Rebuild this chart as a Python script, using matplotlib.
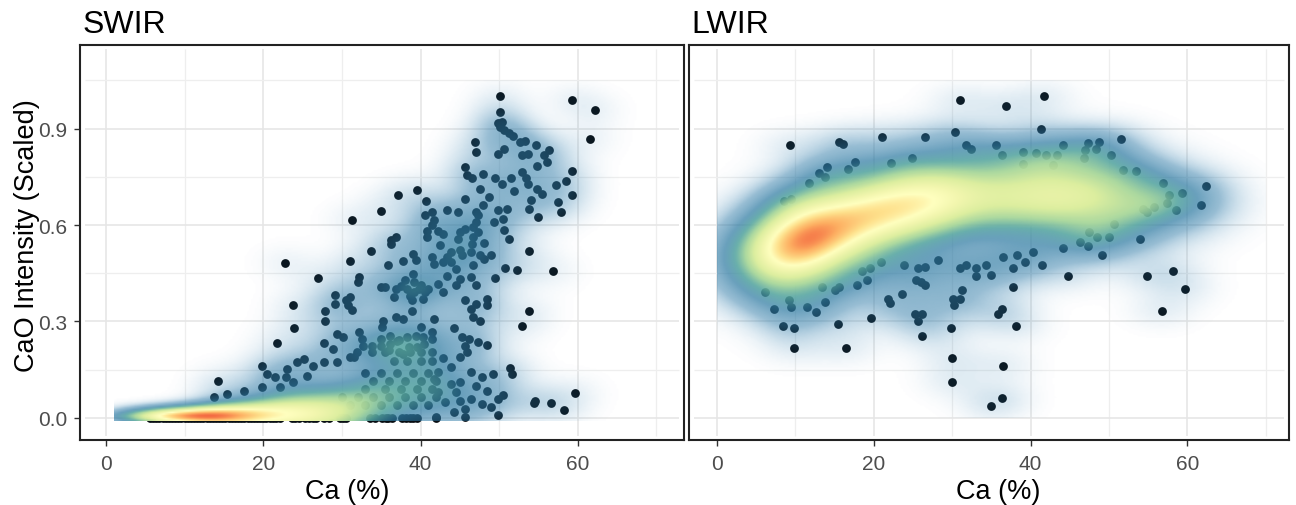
import numpy as np
import matplotlib
matplotlib.use("Agg")
import matplotlib.pyplot as plt
from matplotlib.colors import LinearSegmentedColormap, to_rgb

plt.rcParams['font.family'] = ['Liberation Sans', 'DejaVu Sans']

# ---------- SWIR points ----------
swir_x = [50.1,59.2,62.2,61.5,50.1,46.9,47.1,49.8,50.3,50.1,50.6,51.2,51.7,52.6,53.3,54.7,56.3,55.7,56.1,54.8,52.9,53.7,49.8,50.6,
 45.6,45.9,46.6,48,52.9,53.4,49.5,50.3,51.5,51.9,53.7,54.8,55.5,57.2,58.5,59.2,59.2,57.5,57.9,54.9,54,53.8,47.6,48.7,48,45.6,
 40.7,37.1,39.6,35,31.3,43.4,44.8,47,49.9,51,49.3,50.5,50.6,51.2,
 40.6,41.4,41.7,41.4,42.2,40.8,40.8,42.8,42.5,43.9,45,46.4,47.6,49,48.1,45.3,43.4,41.4,41.7,42.8,43.9,48.1,
 45,45.6,44.8,46.7,47.3,47,46.7,46.6,47.3,36.9,36.3,36.3,33.7,31,35.8,37.8,39,39.4,39,39.2,38.3,40,40.6,39.2,38.9,36.9,35.5,35,36.6,42.2,43.4,44.5,45,46.7,46.4,47,44.5,42.8,
 32.2,32.1,27,22.8,23.8,23.9,21.8,27.8,27.8,29.1,29.1,30.5,31,30.8,31.3,45.6,47,48.4,48.5,46.4,46.7,47.6,49.5,50.8,52.3,53.8,56.8,53.8,52.9,
 38.9,37.8,36.9,35.2,35.1,40,41.7,41.4,44.2,45.3,46.2,47.3,48.4,45.6,
 33.8,35,36.1,37.2,38.3,39.4,40.3,41.4,35,36.1,32.7,33.8,35.5,37.2,38.6,40,41.4,36.6,38.3,40,41.4,32.2,32.5,31.9,31.6,
 19.9,20.5,21.5,23,22.9,24.3,25.2,26.3,27.7,27.7,28.9,29.4,30.2,29.4,31,14.3,15.4,13.7,17.6,19.9,22.1,23.8,25.5,
 51.4,51.6,49.2,46.4,47.8,48.4,47,45,43.9,49,47.8,50.5,49.8,49.9,45.6,44.2,44.5,45,46.4,45.6,43.1,42.2,41.7,42.2,43.9,42.9,45,45.9,59.7,54.5,54.4,56.6,58.2,42,
 33,35,37,39,41,34,36,38,40,42,33,35.5,37.5,39.5,41.5,30,32,34,36,38,40,42,31,33,35,37,39,41,
 37,38.5,40.5,36,37.8,39.5,37.5,38.6,39.8,41,38,40.3]
swir_y = [1.0,.99,.958,.867,.953,.858,.827,.916,.919,.905,.895,.885,.877,.859,.861,.848,.833,.817,.796,.783,.817,.822,.820,.838,
 .781,.755,.745,.758,.765,.745,.745,.729,.745,.705,.729,.713,.698,.724,.736,.767,.693,.672,.641,.625,.677,.651,.713,.687,.661,.682,
 .674,.693,.710,.645,.615,.646,.641,.641,.646,.651,.61,.62,.584,.558,
 .63,.64,.615,.60,.583,.583,.563,.573,.537,.516,.521,.516,.506,.506,.495,.506,.50,.50,.48,.485,.485,.544,
 .578,.589,.558,.594,.63,.61,.563,.542,.578,.563,.552,.542,.518,.487,.477,.487,.511,.49,.449,.423,.402,.412,.391,.391,.366,.402,.407,.407,.376,.417,.443,.464,.433,.475,.438,.412,.412,.391,
 .438,.423,.435,.482,.35,.28,.234,.334,.301,.381,.355,.366,.376,.35,.336,.366,.355,.371,.35,.34,.314,.303,.435,.466,.461,.519,.456,.333,.286,
 .334,.308,.314,.303,.282,.282,.308,.267,.28,.251,.246,.236,.228,.225,
 .225,.225,.23,.241,.251,.256,.251,.246,.246,.256,.225,.205,.205,.205,.205,.205,.205,.178,.178,.178,.178,.267,.246,.205,.189,
 .163,.137,.127,.153,.127,.173,.184,.163,.173,.234,.215,.262,.251,.173,.189,.116,.075,.064,.085,.096,.096,.111,.132,
 .155,.137,.137,.142,.127,.085,.10,.111,.106,.033,.044,.07,.059,.01,.004,.018,.08,.054,.059,.028,.049,.08,.121,.142,.158,.186,.189,.205,.079,.054,.047,.047,.026,.002,
 .14,.14,.14,.14,.14,.115,.115,.115,.115,.115,.09,.09,.09,.09,.09,.065,.065,.065,.065,.065,.065,.065,.04,.04,.04,.04,.04,.04,
 .24,.22,.23,.21,.2,.22,.41,.38,.40,.40,.43,.37]
# Row of points sitting on the zero line; only their lower edge shows.
swir_zero_x = [5.6,6,6.4,6.8,7.2,7.6,8,8.4,8.8,9.2,9.6,10,10.4,10.8,11.2,11.6,12,12.4,12.8,13.2,13.6,14,14.4,14.8,15.2,15.6,16,16.4,16.8,17.2,17.6,18,18.4,18.8,19.2,19.6,20,20.4,20.8,21.2,21.6,22.1,
 23.6,24.1,24.5,25.3,25.8,26.3,26.7,27.7,28.3,29.8,30.2,30.5,33.6,34.2,35.1,35.6,35.9,36.4,37.6,38.1,38.6,39.0,39.5,42.0]

# Density ridge
swir_ridge_x = [1,5,9,13,17,21,25,29,33,37,41,45]
swir_ridge_y = [.004,.005,.005,.005,.006,.01,.012,.015,.02,.03,.04,.05]
swir_ridge_level = [.05,.28,.45,.5,.42,.34,.33,.27,.14,.07,.03,.01]
swir_ridge_spread = [.012,.018,.02,.024,.03,.04,.05,.06,.07,.09,.1,.1]

# ---------- LWIR points ----------
lwir_x = [41.7,31,36.9,41.3,30.4,26.5,21,9.3,15.6,16.1,51.5,48.7,47.3,47,48.3,46.8,44.1,35.6,31.8,32.4,50.2,39,40.7,42,43.4,36.3,39,42.8,
 24.9,22.2,17.6,16.7,14,13,13.8,11.7,9.5,8.6,53.4,51.8,56.9,62.4,61.7,59.3,57.6,58.6,57.4,55.8,54.3,54.9,50.6,50,48.5,47.5,46.3,47.3,53.9,49.1,44.1,41.5,40.3,39.3,37.8,36.5,38.3,
 34.3,34.9,33.1,33,31.8,31,28.2,26.5,25.7,23.9,20.9,19.5,18.5,19.1,17.8,15.5,15,13.4,44.8,54.9,58.2,59.7,56.7,
 37.8,31.3,31,30.1,30.2,25.4,26,26.5,23.6,21.8,22.1,13.8,12.6,11.5,9.5,9.2,7.3,6.1,19.7,15.4,8.4,9.8,9.8,16.5,25.2,26.2,25.7,26.1,29.8,38.2,36.3,35.8,30,36.5,30,36.3,34.9]
lwir_y = [1.0,.99,.97,.90,.89,.874,.874,.848,.859,.853,.869,.859,.854,.833,.838,.807,.848,.848,.848,.838,.817,.828,.824,.817,.817,.817,.791,.786,
 .809,.794,.796,.774,.781,.763,.748,.732,.682,.675,.768,.771,.732,.721,.661,.70,.693,.646,.67,.656,.649,.641,.602,.563,.563,.578,.547,.534,.557,.508,.529,.477,.516,.485,.466,.50,.506,
 .477,.445,.466,.44,.475,.466,.492,.469,.466,.475,.485,.466,.456,.43,.412,.407,.397,.407,.44,.44,.456,.402,.333,
 .408,.397,.371,.371,.35,.43,.423,.412,.386,.371,.358,.36,.329,.345,.345,.366,.339,.391,.312,.291,.286,.28,.217,.217,.324,.324,.303,.254,.28,.286,.34,.322,.185,.163,.111,.063,.036]

lwir_ridge_x = [0,4,8,12,16,20,24,28,32,36,40,44,48,52,56,60,64,68]
lwir_ridge_y = [.49,.5,.525,.56,.6,.635,.66,.68,.69,.69,.69,.69,.69,.68,.68,.67,.67,.67]
lwir_ridge_level = [.05,.2,.45,.52,.42,.39,.38,.35,.27,.25,.27,.28,.26,.2,.12,.07,.03,.005]
lwir_ridge_spread = [.085,.09,.095,.095,.09,.09,.09,.09,.09,.09,.09,.09,.09,.09,.085,.08,.07,.06]

x_major = [0, 20, 40, 60]
x_minor = [10, 30, 50, 70]
y_major = [0.0, 0.3, 0.6, 0.9]
y_minor = [0.15, 0.45, 0.75, 1.05]
y_labels = ['0.0', '0.3', '0.6', '0.9']

stops = [(0, '#2f7fb0', 0), (.03, '#2f7fb0', .15), (.1, '#2f7ba8', .5), (.2, '#2f7ba3', .72),
         (.3, '#55a5a0', .88), (.4, '#a8d79c', .97), (.5, '#dcee9f', 1), (.6, '#f2f6ae', 1), (.68, '#ffffbf', 1),
         (.76, '#fee08b', 1), (.85, '#fdae61', 1), (.93, '#f46d43', 1), (1, '#e0404a', 1)]
cmap = LinearSegmentedColormap.from_list(
    'ramp', [(s[0], to_rgb(s[1]) + (s[2],)) for s in stops], N=512)


def density(xs, ys, px, py, rx, ry, rl, rs, amp, hx, hy, rhx):
    X, Y = np.meshgrid(xs, ys)
    Z = np.zeros_like(X)
    for a, b in zip(px, py):
        Z += amp * np.exp(-.5 * ((X - a) / hx) ** 2 - .5 * ((Y - b) / hy) ** 2)
    for a, b, l, s in zip(rx, ry, rl, rs):
        Z += l * np.exp(-.5 * ((X - a) / rhx) ** 2 - .5 * ((Y - b) / s) ** 2)
    return np.clip(Z, 0, 1)


fig = plt.figure(figsize=(12.96, 5.06), dpi=100)
W, H = 1296, 506
ax1 = fig.add_axes([80 / W, 1 - 441 / H, 604 / W, 395 / H])
ax2 = fig.add_axes([689 / W, 1 - 441 / H, 600 / W, 395 / H])

ylim = (-0.0686, 1.16)
limits = ((ax1, (-3.3, 73.5)), (ax2, (-3.57, 72.96)))
for ax, xlim in limits:
    xt = ax.get_xaxis_transform()
    yt = ax.get_yaxis_transform()
    ax.vlines(x_major, .01, .99, transform=xt, color='#e6e6e6', lw=1.2, zorder=1)
    ax.vlines(x_minor, .01, .99, transform=xt, color='#eeeeee', lw=0.9, zorder=1)
    ax.hlines(y_major, .008, .992, transform=yt, color='#e6e6e6', lw=1.2, zorder=1)
    ax.hlines(y_minor, .008, .992, transform=yt, color='#eeeeee', lw=0.9, zorder=1)
    ax.set_xticks(x_major)
    ax.tick_params(axis='x', length=4, width=1, color='#333333', labelsize=15, labelcolor='#4d4d4d', pad=6)
    for s in ax.spines.values():
        s.set_linewidth(1.5)
        s.set_color('#222222')

ax1.set_yticks(y_major, y_labels)
ax1.tick_params(axis='y', length=4, width=1, color='#333333', labelsize=15, labelcolor='#4d4d4d', pad=5)
ax2.set_yticks([])

pt = dict(s=40, color='#070d12', linewidths=0, zorder=2)
ax1.scatter(swir_x, swir_y, **pt)
ax1.scatter(swir_zero_x, np.zeros(len(swir_zero_x)), **pt)
ax2.scatter(lwir_x, lwir_y, **pt)

ext1 = (1, 68.5, -.008, 1.05)
xs1 = np.linspace(ext1[0], ext1[1], 260)
ys1 = np.linspace(ext1[2], ext1[3], 220)
Z1 = density(xs1, ys1, swir_x, swir_y, swir_ridge_x, swir_ridge_y, swir_ridge_level, swir_ridge_spread,
             .016, 2.6, .04, 3.2)
ax1.imshow(cmap(Z1), origin='lower', extent=ext1, aspect='auto', zorder=3, interpolation='bilinear')

ext2 = (0, 70, 0, 1.05)
xs2 = np.linspace(ext2[0], ext2[1], 260)
ys2 = np.linspace(ext2[2], ext2[3], 220)
Z2 = density(xs2, ys2, lwir_x, lwir_y, lwir_ridge_x, lwir_ridge_y, lwir_ridge_level, lwir_ridge_spread,
             .022, 3.0, .04, 3.2)
ax2.imshow(cmap(Z2), origin='lower', extent=ext2, aspect='auto', zorder=3, interpolation='bilinear')
for ax, xlim in limits:
    ax.set_xlim(*xlim)
    ax.set_ylim(*ylim)

ax1.set_ylabel('CaO Intensity (Scaled)', fontsize=19.5, color='black')
ax1.yaxis.set_label_coords(-0.0665, .52)
ax1.set_xlabel('Ca (%)', fontsize=19.5, x=.442, labelpad=4)
ax2.set_xlabel('Ca (%)', fontsize=19.5, x=.515, labelpad=4)
fig.text(83 / W, 1 - 33 / H, 'SWIR', fontsize=23, ha='left', va='baseline')
fig.text(691 / W, 1 - 33 / H, 'LWIR', fontsize=23, ha='left', va='baseline')

fig.savefig('out.png', dpi=100)
